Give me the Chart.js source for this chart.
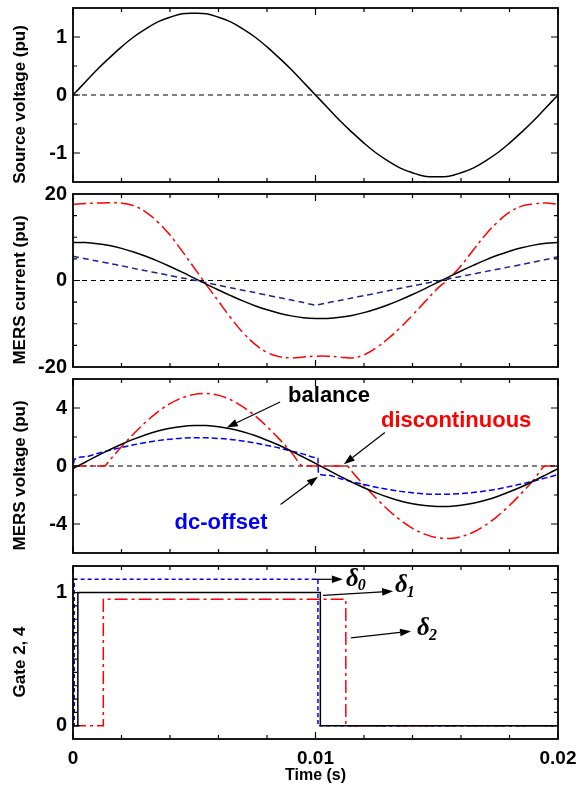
<!DOCTYPE html>
<html>
<head>
<meta charset="utf-8">
<script src="https://cdn.jsdelivr.net/npm/chart.js@4.4.1/dist/chart.umd.min.js"></script>
<style>
  html, body { margin: 0; padding: 0; background: #fff; }
  #wrap { position: relative; width: 583px; height: 789px; }
  #wrap canvas { position: absolute; left: 0; }
</style>
</head>
<body>
<div id="wrap">
  <canvas id="p1" width="583" height="190" style="top:0px"></canvas>
  <canvas id="p2" width="583" height="193" style="top:184px"></canvas>
  <canvas id="p3" width="583" height="194" style="top:369px"></canvas>
  <canvas id="p4" width="583" height="233" style="top:556px"></canvas>
</div>
<script>
// time axis (s)
const timeS = [0, 0.0005, 0.001, 0.0015, 0.002, 0.0025, 0.003, 0.0035, 0.004, 0.0045,
    0.005, 0.0055, 0.006, 0.0065, 0.007, 0.0075, 0.008, 0.0085, 0.009, 0.0095,
    0.01, 0.0105, 0.011, 0.0115, 0.012, 0.0125, 0.013, 0.0135, 0.014, 0.0145,
    0.015, 0.0155, 0.016, 0.0165, 0.017, 0.0175, 0.018, 0.0185, 0.019, 0.0195, 0.02];

// source voltage (pu)
const sourceVoltage = [0, 0.22, 0.44, 0.64, 0.83, 1.00, 1.14, 1.26, 1.34, 1.40,
    1.41, 1.40, 1.34, 1.26, 1.14, 1.00, 0.83, 0.64, 0.44, 0.22,
    0, -0.22, -0.44, -0.64, -0.83, -1.00, -1.14, -1.26, -1.34, -1.40,
    -1.41, -1.40, -1.34, -1.26, -1.14, -1.00, -0.83, -0.64, -0.44, -0.22, 0];

// MERS current (pu)
const currentBalance = [8.78, 8.76, 8.52, 8.08, 7.43, 6.60, 5.61, 4.48, 3.24, 1.92,
    0.55, -0.83, -2.19, -3.49, -4.72, -5.82, -6.78, -7.57, -8.18, -8.59,
    -8.78, -8.76, -8.52, -8.08, -7.43, -6.60, -5.61, -4.48, -3.24, -1.92,
    -0.55, 0.83, 2.19, 3.49, 4.72, 5.82, 6.78, 7.57, 8.18, 8.59, 8.78];
const currentDcOffset = [5.6, 5.05, 4.5, 3.95, 3.4, 2.8, 2.25, 1.7, 1.15, 0.6,
    0.05, -0.5, -1.1, -1.7, -2.25, -2.8, -3.4, -3.95, -4.5, -5.1,
    -5.7, -5.15, -4.6, -4.05, -3.5, -2.95, -2.35, -1.8, -1.25, -0.7,
    -0.15, 0.4, 0.95, 1.5, 2.05, 2.6, 3.15, 3.7, 4.25, 4.85, 5.5];
const currentDiscont = [17.6, 17.8, 17.9, 18.0, 17.9, 17.3, 15.8, 13.5, 10.5, 6.8,
    2.9, -1.0, -4.8, -8.6, -12.0, -14.7, -16.6, -17.6, -17.9, -17.7,
    -17.5, -17.5, -17.7, -17.9, -17.2, -15.6, -13.4, -10.9, -8.0, -5.0,
    -2.0, 0.4, 3.4, 7.0, 10.5, 13.5, 15.8, 17.2, 17.7, 17.9, 17.6];

// MERS voltage (pu)
const voltageBalance = [-0.18, 0.26, 0.70, 1.11, 1.50, 1.85, 2.16, 2.41, 2.60, 2.73,
    2.79, 2.79, 2.71, 2.57, 2.36, 2.10, 1.78, 1.43, 1.03, 0.61,
    0.18, -0.26, -0.70, -1.11, -1.50, -1.85, -2.16, -2.41, -2.60, -2.73,
    -2.79, -2.79, -2.71, -2.57, -2.36, -2.10, -1.78, -1.43, -1.03, -0.61, -0.18];
const dcOffsetTimeS = [0, 0.00005, 0.0005, 0.001, 0.0015, 0.002, 0.0025, 0.003, 0.0035, 0.004,
    0.0045, 0.005, 0.0055, 0.006, 0.0065, 0.007, 0.0075, 0.008, 0.0085, 0.009,
    0.0095, 0.01, 0.0101, 0.01012, 0.0105, 0.011, 0.0115, 0.012, 0.0125, 0.013,
    0.0135, 0.014, 0.0145, 0.015, 0.0155, 0.016, 0.0165, 0.017, 0.0175, 0.018,
    0.0185, 0.019, 0.0195, 0.02];
const voltageDcOffset = [-0.45, 0.43, 0.64, 0.86, 1.08, 1.28, 1.46, 1.62, 1.75, 1.85,
    1.92, 1.95, 1.94, 1.90, 1.83, 1.72, 1.59, 1.42, 1.24, 1.03,
    0.82, 0.59, 0.55, -0.55, -0.64, -0.86, -1.08, -1.28, -1.46, -1.62,
    -1.75, -1.85, -1.92, -1.95, -1.94, -1.90, -1.83, -1.72, -1.59, -1.42,
    -1.24, -1.03, -0.82, -0.59];
const discontTimeS = [0, 0.0005, 0.001, 0.0013, 0.0015, 0.002, 0.0025, 0.003, 0.0035, 0.004,
    0.0045, 0.005, 0.0055, 0.006, 0.0065, 0.007, 0.0075, 0.008, 0.0085, 0.009,
    0.0095, 0.01, 0.0105, 0.011, 0.0113, 0.0115, 0.012, 0.0125, 0.013, 0.0135,
    0.014, 0.0145, 0.015, 0.0155, 0.016, 0.0165, 0.017, 0.0175, 0.018, 0.0185,
    0.019, 0.0195, 0.02];
const voltageDiscont = [0, 0, 0, 0, 0.38, 1.33, 2.22, 3.03, 3.73, 4.30,
    4.70, 4.94, 5.0, 4.87, 4.57, 4.09, 3.47, 2.72, 1.87, 0.95,
    0, 0, 0, 0, 0, -0.38, -1.33, -2.22, -3.03, -3.73,
    -4.30, -4.70, -4.94, -5.0, -4.87, -4.57, -4.09, -3.47, -2.72, -1.87,
    -0.95, 0, 0];

// gate signals (step change points)
const gateBalanceTimeS = [0, 0.0002, 0.0102, 0.02];
const gateBalance = [0, 1, 0, 0];
const gateDcOffsetTimeS = [0, 0.00005, 0.0101, 0.02];
const gateDcOffset = [0, 1.1, 0, 0];
const gateDiscontTimeS = [0, 0.00125, 0.01125, 0.02];
const gateDiscont = [0, 0.95, 0, 0];

const zeroLineTimeS = [0, 0.02];
const zeroLine = [0, 0];

// ticks
const xTickMarks = [0, 0.002, 0.004, 0.006, 0.008, 0.01, 0.012, 0.014, 0.016, 0.018, 0.02];
const xTickLabels = [0, 0.01, 0.02];
const sourceTicks = [-1, 0, 1];
const sourceMarks = [-1, -0.5, 0, 0.5, 1];
const currentTicks = [-20, 0, 20];
const currentMarks = [-15, -10, -5, 0, 5, 10, 15];
const voltageTicks = [-4, 0, 4];
const voltageMarks = [-4, -2, 0, 2, 4];
const gateTicks = [0, 1];
const gateMarks = [0, 0.1, 0.2, 0.3, 0.4, 0.5, 0.6, 0.7, 0.8, 0.9, 1, 1.1];

const FONT = "'Liberation Sans', Arial, Helvetica, sans-serif";
const tickFont = {family: FONT, size: 20, weight: 'bold'};
const xTickFont = {family: FONT, size: 19, weight: 'bold'};
const titleFont = {family: FONT, size: 17, weight: 'bold'};

function pts(ts, vs) {
    return ts.map((t, i) => ({x: t, y: vs[i]}));
}

function curve(ts, vs, color, dash, smooth) {
    let ds = {
        data: pts(ts, vs),
        borderColor: color,
        borderWidth: 1.5,
        borderDash: dash || [],
        pointRadius: 0,
        fill: false
    };
    // 有跳变的曲线用 monotone，其余用 bezier
    if (smooth === 'monotone') ds.cubicInterpolationMode = 'monotone';
    else ds.tension = smooth === undefined ? 0.4 : smooth;
    return ds;
}

function steps(ts, vs, color, dash) {
    return {
        data: pts(ts, vs),
        borderColor: color,
        borderWidth: 1.5,
        borderDash: dash || [],
        pointRadius: 0,
        fill: false,
        stepped: 'before'
    };
}

function zero() {
    return {data: pts(zeroLineTimeS, zeroLine), borderColor: '#000', borderWidth: 1, borderDash: [5, 4], pointRadius: 0, fill: false};
}

// 边框 + 朝内的刻度
function framePlugin(yMarks, yLabels) {
    return {
        id: 'frame',
        afterDatasetsDraw(chart) {
            const {ctx, chartArea: a, scales: {x, y}} = chart;
            ctx.save();
            ctx.strokeStyle = '#000';
            ctx.lineWidth = 1.2;
            ctx.beginPath();
            xTickMarks.forEach(v => {
                const px = x.getPixelForValue(v);
                const len = xTickLabels.includes(v) ? 7 : 4;
                ctx.moveTo(px, a.bottom); ctx.lineTo(px, a.bottom - len);
                ctx.moveTo(px, a.top); ctx.lineTo(px, a.top + len);
            });
            yMarks.forEach(v => {
                const py = y.getPixelForValue(v);
                const len = yLabels.includes(v) ? 7 : 4;
                ctx.moveTo(a.left, py); ctx.lineTo(a.left + len, py);
                ctx.moveTo(a.right, py); ctx.lineTo(a.right - len, py);
            });
            ctx.stroke();
            ctx.lineWidth = 1.8;
            ctx.strokeRect(a.left, a.top, a.right - a.left, a.bottom - a.top);
            ctx.restore();
        }
    };
}

function drawArrow(ctx, x1, y1, x2, y2) {
    const ang = Math.atan2(y2 - y1, x2 - x1);
    const hl = 11, hw = 3.8;
    ctx.beginPath();
    ctx.moveTo(x1, y1);
    ctx.lineTo(x2 - hl * Math.cos(ang), y2 - hl * Math.sin(ang));
    ctx.stroke();
    ctx.beginPath();
    ctx.moveTo(x2, y2);
    ctx.lineTo(x2 - hl * Math.cos(ang) + hw * Math.sin(ang), y2 - hl * Math.sin(ang) - hw * Math.cos(ang));
    ctx.lineTo(x2 - hl * Math.cos(ang) - hw * Math.sin(ang), y2 - hl * Math.sin(ang) + hw * Math.cos(ang));
    ctx.closePath();
    ctx.fill();
}

// 注释文字和箭头 (数据坐标)
function notesPlugin(labels, arrows) {
    return {
        id: 'notes',
        afterDraw(chart) {
            const {ctx, scales: {x, y}} = chart;
            ctx.save();
            ctx.strokeStyle = '#000';
            ctx.fillStyle = '#000';
            ctx.lineWidth = 1.2;
            arrows.forEach(a => {
                drawArrow(ctx, x.getPixelForValue(a.from[0]), y.getPixelForValue(a.from[1]),
                    x.getPixelForValue(a.to[0]), y.getPixelForValue(a.to[1]));
            });
            labels.forEach(l => {
                const px = x.getPixelForValue(l.at[0]);
                const py = y.getPixelForValue(l.at[1]);
                ctx.textAlign = 'left';
                ctx.textBaseline = 'middle';
                ctx.fillStyle = l.color;
                ctx.font = l.font;
                ctx.fillText(l.text, px, py);
                if (l.sub) {
                    const w = ctx.measureText(l.text).width;
                    ctx.font = l.subFont;
                    ctx.fillText(l.sub, px + w - 1, py + 7);
                }
            });
            ctx.restore();
        }
    };
}

function makePanel(id, opt) {
    const last = !!opt.xTitle;
    return new Chart(document.getElementById(id), {
        type: 'line',
        data: {datasets: opt.datasets},
        options: {
            responsive: false,
            animation: false,
            events: [],
            layout: {padding: {top: opt.padTop, bottom: opt.padBottom, left: 0, right: 25}},
            plugins: {legend: {display: false}, tooltip: {enabled: false}},
            scales: {
                x: {
                    type: 'linear', min: 0, max: 0.02, display: last,
                    grid: {display: false, drawTicks: false},
                    border: {display: false},
                    afterBuildTicks: s => { s.ticks = xTickLabels.map(v => ({value: v})); },
                    afterFit: s => { if (last) { s.height = 50; s.paddingLeft = 0; s.paddingRight = 0; } },
                    ticks: {autoSkip: false, maxRotation: 0, padding: 8, color: '#000', font: xTickFont, callback: v => String(v)},
                    title: {display: last, text: opt.xTitle, color: '#000', font: {family: FONT, size: 16, weight: 'bold'}, padding: {top: 0, bottom: 4}}
                },
                y: {
                    type: 'linear', min: opt.yMin, max: opt.yMax,
                    grid: {display: false, drawTicks: false},
                    border: {display: false},
                    afterBuildTicks: s => { s.ticks = opt.yTicks.map(v => ({value: v})); },
                    afterFit: s => { s.width = 73; s.paddingTop = 0; s.paddingBottom = 0; },
                    ticks: {autoSkip: false, padding: 6, color: '#000', font: tickFont, callback: v => String(v)},
                    // 末尾空格让标题比面板中心稍微往下
                    title: {display: true, text: opt.yTitle + '    ', color: '#000', font: titleFont, padding: {top: 10, bottom: 0}}
                }
            }
        },
        plugins: [framePlugin(opt.yMarks, opt.yTicks), notesPlugin(opt.labels || [], opt.arrows || [])]
    });
}

const RED = '#ff0000';
const BLUE = '#0000ff';
const NAVY = '#1c2494';
const dashDot = [13, 4, 3, 4];
const noteFont = "bold 22px " + FONT;
const deltaFont = "italic bold 25px 'Liberation Serif', 'DejaVu Serif', serif";
const subFont = "italic bold 16px 'Liberation Serif', 'DejaVu Serif', serif";

makePanel('p1', {
    padTop: 8, padBottom: 8,
    yMin: -1.5, yMax: 1.5, yTicks: sourceTicks, yMarks: sourceMarks,
    yTitle: 'Source voltage (pu)',
    datasets: [curve(timeS, sourceVoltage, '#000'), zero()]
});

makePanel('p2', {
    padTop: 10, padBottom: 10,
    yMin: -20, yMax: 20, yTicks: currentTicks, yMarks: currentMarks,
    yTitle: 'MERS current (pu)',
    datasets: [
        curve(timeS, currentBalance, '#000'),
        curve(timeS, currentDcOffset, NAVY, [6, 4], 0.15),
        curve(timeS, currentDiscont, RED, dashDot),
        zero()
    ]
});

makePanel('p3', {
    padTop: 10, padBottom: 10,
    yMin: -6, yMax: 6, yTicks: voltageTicks, yMarks: voltageMarks,
    yTitle: 'MERS voltage (pu)',
    datasets: [
        curve(timeS, voltageBalance, '#000'),
        curve(dcOffsetTimeS, voltageDcOffset, BLUE, [6, 3], 'monotone'),
        curve(discontTimeS, voltageDiscont, RED, dashDot, 'monotone'),
        zero()
    ],
    labels: [
        {text: 'balance', at: [0.00887, 4.83], color: '#000', font: noteFont},
        {text: 'discontinuous', at: [0.0127, 3.08], color: RED, font: noteFont},
        {text: 'dc-offset', at: [0.00419, -3.93], color: BLUE, font: noteFont}
    ],
    arrows: [
        {from: [0.00854, 4.41], to: [0.00634, 2.66]},
        {from: [0.01286, 2.31], to: [0.01117, 0.12]},
        {from: [0.00856, -2.66], to: [0.0101, -0.74]}
    ]
});

makePanel('p4', {
    padTop: 10, padBottom: 0,
    yMin: -0.1, yMax: 1.2, yTicks: gateTicks, yMarks: gateMarks,
    yTitle: 'Gate 2, 4', xTitle: 'Time (s)',
    datasets: [
        steps(gateBalanceTimeS, gateBalance, '#000'),
        steps(gateDcOffsetTimeS, gateDcOffset, BLUE, [4, 3]),
        steps(gateDiscontTimeS, gateDiscont, RED, dashDot)
    ],
    labels: [
        {text: 'δ', sub: '0', at: [0.01126, 1.10], color: '#000', font: deltaFont, subFont: subFont},
        {text: 'δ', sub: '1', at: [0.01328, 1.05], color: '#000', font: deltaFont, subFont: subFont},
        {text: 'δ', sub: '2', at: [0.01419, 0.73], color: '#000', font: deltaFont, subFont: subFont}
    ],
    arrows: [
        {from: [0.00998, 1.10], to: [0.01113, 1.10]},
        {from: [0.01031, 0.98], to: [0.0132, 1.01]},
        {from: [0.01146, 0.66], to: [0.01394, 0.71]}
    ]
});
</script>
</body>
</html>
